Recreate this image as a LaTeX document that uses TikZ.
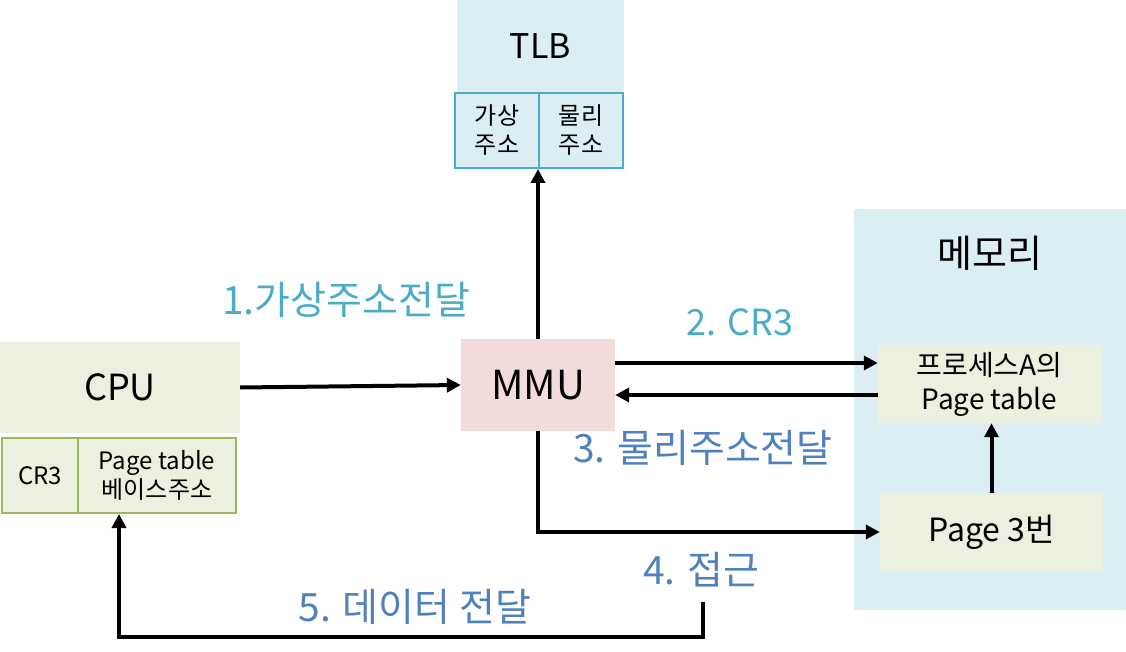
\documentclass[tikz,border=0pt]{standalone}
\usepackage{fontspec}
\setmainfont{Noto Sans CJK KR}
\usetikzlibrary{arrows.meta}
\definecolor{tlbfill}{HTML}{DAEEF3}
\definecolor{tlbline}{HTML}{4BACC6}
\definecolor{cpufill}{HTML}{EBF1DE}
\definecolor{cpuline}{HTML}{9BBB59}
\definecolor{mmufill}{HTML}{F2DCDB}
\definecolor{labcyan}{HTML}{4BACC6}
\definecolor{labblue}{HTML}{4F81BD}
\begin{document}
\begin{tikzpicture}[x=1pt,y=-1pt,
    box/.style={inner sep=0pt,align=center},
    big/.style={font=\fontsize{36}{42}\selectfont},
    small/.style={font=\fontsize{24}{29}\selectfont},
    lab/.style={inner sep=0pt,font=\fontsize{39}{46}\selectfont},
    arr/.style={line width=4pt,-{Triangle[length=14pt,width=14pt]}}]
  \useasboundingbox (0,0) rectangle (1126,652);
  % TLB
  \node [box,fill=tlbfill,minimum width=167pt,minimum height=93pt,font=\fontsize{34}{40}\selectfont] (tlb) at (540.5,46.5) {TLB};
  \node [box,small,fill=tlbfill,draw=tlbline,line width=2pt,minimum width=84pt,minimum height=75pt] (tlbv) at (497,130.5) {가상\\주소};
  \node [box,small,fill=tlbfill,draw=tlbline,line width=2pt,minimum width=84pt,minimum height=75pt] (tlbp) at (581,130.5) {물리\\주소};
  % CPU
  \node [box,big,fill=cpufill,minimum width=240pt,minimum height=91pt] (cpu) at (120,387.5) {CPU};
  \node [box,small,fill=cpufill,draw=cpuline,line width=2pt,minimum width=76pt,minimum height=75pt] (cr3) at (40,475.5) {CR3};
  \node [box,small,fill=cpufill,draw=cpuline,line width=2pt,minimum width=158pt,minimum height=75pt] (base) at (157,475.5) {Page table\\베이스주소};
  % MMU
  \node [box,fill=mmufill,minimum width=154pt,minimum height=92pt,font=\fontsize{40}{46}\selectfont] (mmu) at (538,385) {MMU};
  % memory
  \node [box,fill=tlbfill,minimum width=272pt,minimum height=401pt] (mem) at (990,409.5) {};
  \node [box,font=\fontsize{38}{44}\selectfont] (memt) at (990,253) {메모리};
  \node [box,fill=cpufill,minimum width=223pt,minimum height=78pt,font=\fontsize{28}{34}\selectfont] (pt) at (989.5,384) {프로세스A의\\Page table};
  \node [box,fill=cpufill,minimum width=223pt,minimum height=78pt,font=\fontsize{32}{38}\selectfont] (page3) at (991.5,532) {Page 3번};
  % labels
  \node [lab,text=labcyan] (l1) at (346,300) {1.가상주소전달};
  \node [lab,text=labcyan,font=\fontsize{36}{42}\selectfont] (l2) at (740,322) {2. CR3};
  \node [lab,text=labblue] (l3) at (703,448) {3. 물리주소전달};
  \node [lab,text=labblue] (l4) at (701,570) {4. 접근};
  \node [lab,text=labblue] (l5) at (415,607) {5. 데이터 전달};
  % arrows
  \draw [arr] (cpu.east) -- (mmu.west);
  \draw [arr] (mmu.north) -- (mmu.north |- tlbv.south);
  \draw [arr] ([yshift=22pt]mmu.east) -- ([yshift=21pt]pt.west);
  \draw [arr] ([yshift=-11pt]pt.west) -- ([yshift=-10pt]mmu.east);
  \draw [arr] (mmu.south) |- (page3.west);
  \draw [arr] (page3.north) -- (page3.north |- pt.south);
  \coordinate (ret) at (703,602);
  \draw [arr] (ret) -- ++(0,35) -| ([xshift=-38pt]base.south);
\end{tikzpicture}
\end{document}
